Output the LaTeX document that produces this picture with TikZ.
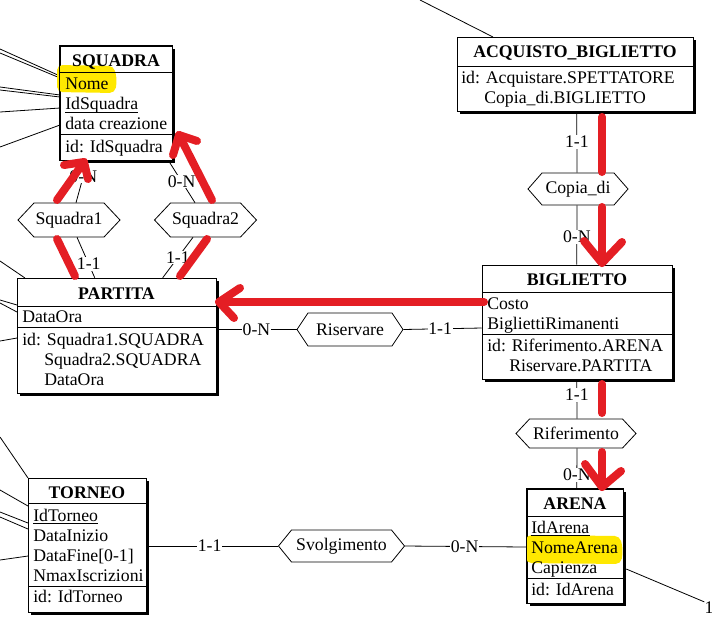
\documentclass[tikz,border=0pt]{standalone}
\usepackage{fontspec}
\setmainfont{Liberation Serif}
\usetikzlibrary{fit,calc}
\definecolor{arrowred}{RGB}{228,30,36}
\definecolor{hilite}{RGB}{255,232,0}
\newcommand\erentity[5]{%
  \fill[black] ({#2+3},{#3+3}) rectangle ({#4+3},{#5+3});
  \draw[fill=white,line width=0.75pt] (#2,#3) rectangle (#4,#5);
  \coordinate (#1-nw) at (#2,#3);
  \coordinate (#1-se) at (#4,#5);
  \node[fit=(#1-nw)(#1-se), inner sep=0pt, draw=none] (#1) {};
}
\newcommand\erhexa[7]{%
  \draw[hexline] ({#2-#4},{#3-#5}) -- ({#2+#4},{#3-#5}) -- ({#2+#4+#6},#3) -- ({#2+#4},{#3+#5}) -- ({#2-#4},{#3+#5}) -- ({#2-#4-#6},#3) -- cycle;
  \node[hextext, minimum width={2*#4*0.75pt}, minimum height={2*#5*0.75pt}] (#1) at (#2,#3) {#7};
}
\begin{document}
\begin{tikzpicture}[x=0.75pt,y=-0.75pt,
  every node/.style={font=\fontsize{13.3}{15}\selectfont},
  attr/.style={anchor=base west, inner sep=0pt},
  etitle/.style={anchor=base, inner sep=0pt, font=\fontsize{13.3}{15}\selectfont\bfseries},
  conn/.style={draw=black, line width=0.6pt},
  lab/.style={fill=white, inner sep=0.6pt},
  redline/.style={draw=arrowred, line width=6pt, line cap=round, line join=round},
  sep/.style={line width=0.75pt},
  hexline/.style={draw, fill=white, line width=0.6pt},
  hextext/.style={inner sep=0pt},
  uline/.style={line width=0.6pt}]
\useasboundingbox (0,0) rectangle (712,629);

% lines to entities outside the picture
\draw[conn] (0,49) -- (60,76);
\draw[conn] (0,53) -- (60,78);
\draw[conn] (0,87) -- (60,95);
\draw[conn] (0,90) -- (60,97);
\draw[conn] (0,112) -- (60,108);
\draw[conn] (0,147) -- (60,125);
\draw[conn] (420,0) -- (493,37);
\draw[conn] (0,261) -- (25,278);
\draw[conn] (0,300) -- (17,305);
\draw[conn] (0,303) -- (17,312);
\draw[conn] (0,341) -- (17,338);
\draw[conn] (0,437) -- (28,478);
\draw[conn] (0,490) -- (28,506);
\draw[conn] (0,512) -- (28,523);
\draw[conn] (0,517) -- (28,529);
\draw[conn] (0,560) -- (28,556);

% entities
\erentity{squadra}{60}{46}{172}{160}
\erentity{acq}{457}{37}{693}{111}
\erentity{partita}{17}{278}{216}{393}
\erentity{biglietto}{482}{265}{672}{379}
\erentity{torneo}{28}{478}{146}{612}
\erentity{arena}{527}{489}{623}{603}

% highlights
\fill[hilite, rounded corners=4] (57,65) -- (114,66) -- (117,80) -- (115,93) -- (57,92) -- cycle;
\fill[hilite, rounded corners=4] (526,535) -- (620,536) -- (623,550) -- (621,564) -- (526,563) -- cycle;
\draw[line width=0.75pt] (squadra.north west) rectangle (squadra.south east);
\draw[line width=0.75pt] (arena.north west) rectangle (arena.south east);

% separators
\draw[sep] (60,72) -- (172,72);
\draw[sep] (60,134) -- (172,134);
\draw[sep] (457,66) -- (693,66);
\draw[sep] (17,306) -- (216,306);
\draw[sep] (17,327) -- (216,327);
\draw[sep] (482,292) -- (672,292);
\draw[sep] (482,334) -- (672,334);
\draw[sep] (28,503) -- (146,503);
\draw[sep] (28,586) -- (146,586);
\draw[sep] (527,516) -- (623,516);
\draw[sep] (527,578) -- (623,578);

% SQUADRA
\node[etitle] (sqt) at (116,66) {SQUADRA};
\node[attr] (sqa1) at (65,89) {Nome};
\node[attr] (sqa2) at (65,109) {IdSquadra};
\node[attr] (sqa3) at (65,129) {data creazione};
\node[attr] (sqa4) at (65,152) {id: IdSquadra};
\draw[uline] ([yshift=-2.2pt]sqa2.base west) -- ([yshift=-2.2pt]sqa2.base east);

% ACQUISTO_BIGLIETTO
\node[etitle] (acqt) at (575,57) {ACQUISTO\_BIGLIETTO};
\node[attr] (acqa1) at (461,83) {id: Acquistare.SPETTATORE};
\node[attr] (acqa2) at (484,103) {Copia\_di.BIGLIETTO};

% PARTITA
\node[etitle] (pat) at (116.5,299) {PARTITA};
\node[attr] (paa1) at (22,322) {DataOra};
\node[attr] (paa2) at (22,345) {id: Squadra1.SQUADRA};
\node[attr] (paa3) at (44,365) {Squadra2.SQUADRA};
\node[attr] (paa4) at (44,385) {DataOra};

% BIGLIETTO
\node[etitle] (bit) at (577,285) {BIGLIETTO};
\node[attr] (bia1) at (487,309) {Costo};
\node[attr] (bia2) at (487,329) {BigliettiRimanenti};
\node[attr] (bia3) at (487,351) {id: Riferimento.ARENA};
\node[attr] (bia4) at (509,371) {Riservare.PARTITA};

% TORNEO
\node[etitle] (tot) at (87,498) {TORNEO};
\node[attr] (toa1) at (33,521) {IdTorneo};
\node[attr] (toa2) at (33,541) {DataInizio};
\node[attr] (toa3) at (33,561) {DataFine[0-1]};
\node[attr] (toa4) at (33,581) {NmaxIscrizioni};
\node[attr] (toa5) at (33,602) {id: IdTorneo};
\draw[uline] ([yshift=-1.8pt]toa1.base west) -- ([yshift=-1.8pt]toa1.base east);

% ARENA
\node[etitle] (art) at (575,509) {ARENA};
\node[attr] (ara1) at (531,533) {IdArena};
\node[attr] (ara2) at (531,553) {NomeArena};
\node[attr] (ara3) at (531,573) {Capienza};
\node[attr] (ara4) at (531,595) {id: IdArena};
\draw[uline] ([yshift=-1.8pt]ara1.base west) -- ([yshift=-1.8pt]ara1.base east);

% relationships
\erhexa{sq1}{69}{220}{35}{17}{16}{Squadra1}
\erhexa{sq2}{205.5}{220}{35}{17}{16}{Squadra2}
\erhexa{copia}{578}{189}{36}{16}{14}{Copia\_di}
\erhexa{ris}{350}{329.5}{42}{16.5}{11}{Riservare}
\erhexa{rif}{576}{433.5}{46.5}{14.5}{13.5}{Riferimento}
\erhexa{svo}{341.5}{546}{50}{16}{13}{Svolgimento}

% connectors
\draw[conn] ($(squadra.south west)+(28,0)$) -- node[lab,pos=0.38]{0-N} ($(sq1.north)+(7,0)$);
\draw[conn] ($(sq1.south)+(8,0)$) -- node[lab,pos=0.66]{1-1} ($(partita.north west)+(78,0)$);
\draw[conn] ($(squadra.south east)+(-4,0)$) -- node[lab,pos=0.5]{0-N} ($(sq2.north)+(-10.5,0)$);
\draw[conn] ($(sq2.south)+(-12.5,0)$) -- node[lab,pos=0.5]{1-1} ($(partita.north west)+(146,0)$);
\draw[conn] ($(acq.south west)+(120,0)$) -- node[lab,pos=0.5]{1-1} ($(copia.north)+(-1,0)$);
\draw[conn] ($(copia.south)+(-1,0)$) -- node[lab,pos=0.53]{0-N} ($(biglietto.north west)+(95,0)$);
\draw[conn] ($(partita.east)+(0,-6)$) -- node[lab,pos=0.5]{0-N} ($(ris.west)+(-11,0)$);
\draw[conn] ($(ris.east)+(11,0)$) -- node[lab,pos=0.47]{1-1} ($(biglietto.west)+(0,6)$);
\draw[conn] ($(biglietto.south west)+(95,0)$) -- node[lab,pos=0.4]{1-1} ($(rif.north)+(1,0)$);
\draw[conn] ($(rif.south)+(1,0)$) -- node[lab,pos=0.66]{0-N} ($(arena.north west)+(50,0)$);
\draw[conn] ($(torneo.east)+(0,1)$) -- node[lab,pos=0.48]{1-1} ($(svo.west)+(-13,0)$);
\draw[conn] ($(svo.east)+(13,0)$) -- node[lab,pos=0.49]{0-N} ($(arena.west)+(0,1)$);
\node[inner sep=0pt] (one) at (709,608) {1};
\draw[conn] ($(arena.east)+(3,23)$) -- (one.north west);

% red hand-drawn arrows
\draw[redline] (75,276) -- (57,239);
\draw[redline] (57,200) -- (84,162);
\draw[redline] (64,165) -- (84,162) -- (88,179);
\draw[redline] (180,276) -- (207,239);
\draw[redline] (212,200) -- (179,135);
\draw[redline] (197,141) -- (179,135) -- (173,155);
\draw[redline] (602,117) -- (602,172);
\draw[redline] (602,207) -- (602,263);
\draw[redline] (584,241) -- (602,263) -- (622,242);
\draw[redline] (484,302) -- (219,302);
\draw[redline] (240,288) -- (219,302) -- (234,318);
\draw[redline] (602,384) -- (602,413);
\draw[redline] (602,452) -- (602,487);
\draw[redline] (585,464) -- (602,487) -- (621,471);
\end{tikzpicture}
\end{document}
